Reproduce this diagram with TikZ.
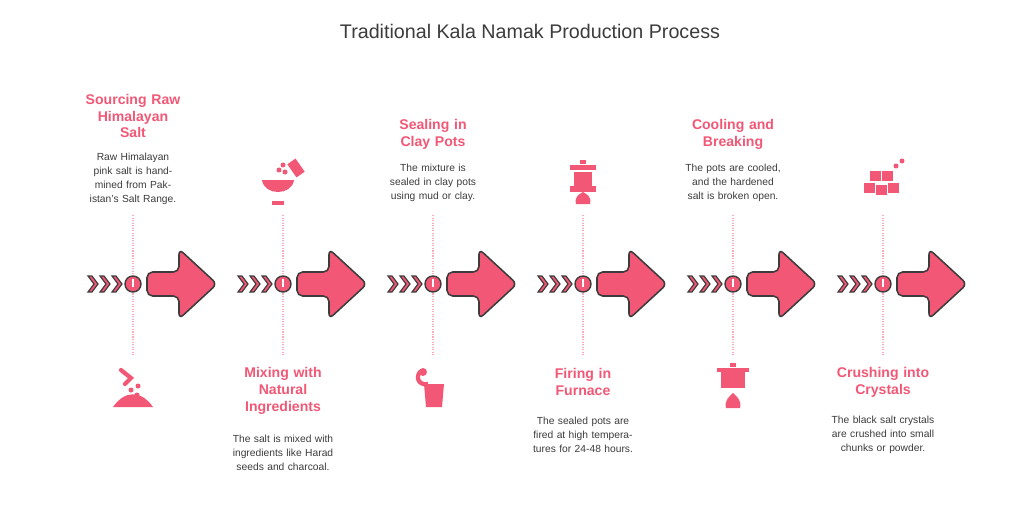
\documentclass[tikz,border=0pt]{standalone}
\usepackage{fontspec}
\setmainfont{Liberation Sans}
\definecolor{salt}{RGB}{242,88,118}
\definecolor{edge}{RGB}{60,60,60}
\definecolor{body}{RGB}{60,60,60}
\begin{document}
\begin{tikzpicture}[
    x=0.025cm, y=-0.025cm,
    steptitle/.style={font=\fontsize{10}{12}\selectfont\bfseries, text=salt, align=center, text width=3cm},
    stepdesc/.style={font=\fontsize{7.3}{10}\selectfont, text=body, align=center, text width=2.6cm},
    bigarrow/.style={fill=salt, draw=edge, line width=1.1pt, rounded corners=4pt},
    chev/.style={fill=salt, draw=edge, line width=0.8pt},
]
\useasboundingbox (0,0) rectangle (1024,505);
\fill[white] (0,0) rectangle (1024,505);

% Title
\node[font=\fontsize{14}{16}\selectfont, text=body] (title) at (530,31) {Traditional Kala Namak Production Process};

% Timeline
\foreach \i/\c in {1/133, 2/283, 3/433, 4/583, 5/733, 6/883} {
    \draw[salt!50, densely dotted, line width=0.8pt] (\c,215) -- (\c,355);
    \foreach \k in {0,1,2} {
        \draw[chev] (\c-45+\k*12,276) -- (\c-39+\k*12,284) -- (\c-45+\k*12,292) -- (\c-41+\k*12,292)
            -- (\c-35+\k*12,284) -- (\c-41+\k*12,276) -- cycle;
    }
    \node[circle, fill=salt, draw=edge, line width=1pt, minimum size=16\pgflinewidth, inner sep=0pt, minimum size=0.4cm] (dot\i) at (\c,284) {};
    \draw[white, line width=0.8pt] (\c,279) -- (\c,287);
    \draw[bigarrow] (\c+14,272) -- (\c+46,272) -- (\c+46,249) -- (\c+84,284)
        -- (\c+46,319) -- (\c+46,296) -- (\c+14,296) -- cycle;
}

% Top texts
\node[steptitle] (t1) at (133,116) {Sourcing Raw\\Himalayan\\Salt};
\node[stepdesc] (d1) at (133,179) {Raw Himalayan pink salt is hand-mined from Pakistan's Salt Range.};
\node[steptitle] (t3) at (433,134) {Sealing in\\Clay Pots};
\node[stepdesc] (d3) at (433,183) {The mixture is sealed in clay pots using mud or clay.};
\node[steptitle] (t5) at (733,134) {Cooling and\\Breaking};
\node[stepdesc] (d5) at (733,183) {The pots are cooled, and the hardened salt is broken open.};

% Bottom texts
\node[steptitle] (t2) at (283,391) {Mixing with\\Natural\\Ingredients};
\node[stepdesc] (d2) at (283,453) {The salt is mixed with ingredients like Harad seeds and charcoal.};
\node[steptitle] (t4) at (583,382) {Firing in\\Furnace};
\node[stepdesc] (d4) at (583,435) {The sealed pots are fired at high temperatures for 24-48 hours.};
\node[steptitle] (t6) at (883,382) {Crushing into\\Crystals};
\node[stepdesc] (d6) at (883,435) {The black salt crystals are crushed into small chunks or powder.};

% Icons
% salt heap (1)
\fill[salt] (113,407) .. controls (125,390) and (141,390) .. (153,407) -- cycle;
\draw[salt, line width=3pt, line cap=round] (121,370) -- (131,378) -- (125,384);
\fill[salt] (131,390) circle (2.5) (138,386) circle (2.5) (137,395) circle (2.5);
% bowl (2)
\fill[salt] (262,180) -- (294,180) .. controls (292,196) and (264,196) .. (262,180) -- cycle;
\fill[salt] (272,201) rectangle (284,205);
\fill[salt, rotate around={35:(296,168)}] (291,160) rectangle (301,176);
\fill[salt] (279,170) circle (2.5) (285,172) circle (2.5) (283,165) circle (2.5);
% jar (3)
\fill[salt] (424,384) -- (444,384) -- (442,407) -- (426,407) -- cycle;
\draw[salt, line width=3pt] (421,371) .. controls (415,376) and (418,386) .. (428,384);
\fill[salt] (423,372) circle (4);
% pot on fire (4)
\fill[salt] (570,165) rectangle (596,170);
\fill[salt] (574,172) rectangle (592,186);
\fill[salt] (580,160) rectangle (586,164);
\fill[salt] (570,186) rectangle (596,192);
\fill[salt] (576,204) .. controls (574,196) and (580,194) .. (583,192) .. controls (586,194) and (592,196) .. (590,204) -- cycle;
% pot on fire (5)
\fill[salt] (721,370) rectangle (745,388);
\fill[salt] (717,368) rectangle (749,372);
\fill[salt] (730,363) rectangle (736,367);
\fill[salt] (726,408) .. controls (724,400) and (730,396) .. (733,393) .. controls (736,396) and (742,400) .. (740,408) -- cycle;
% crystals (6)
\foreach \p in {(870,188),(882,190),(894,188),(876,176),(888,176)} {
    \fill[salt] \p ++(-6,-5) rectangle ++(11,10);
}
\fill[salt] (896,166) circle (2.5) (902,161) circle (2.5);
\end{tikzpicture}
\end{document}
